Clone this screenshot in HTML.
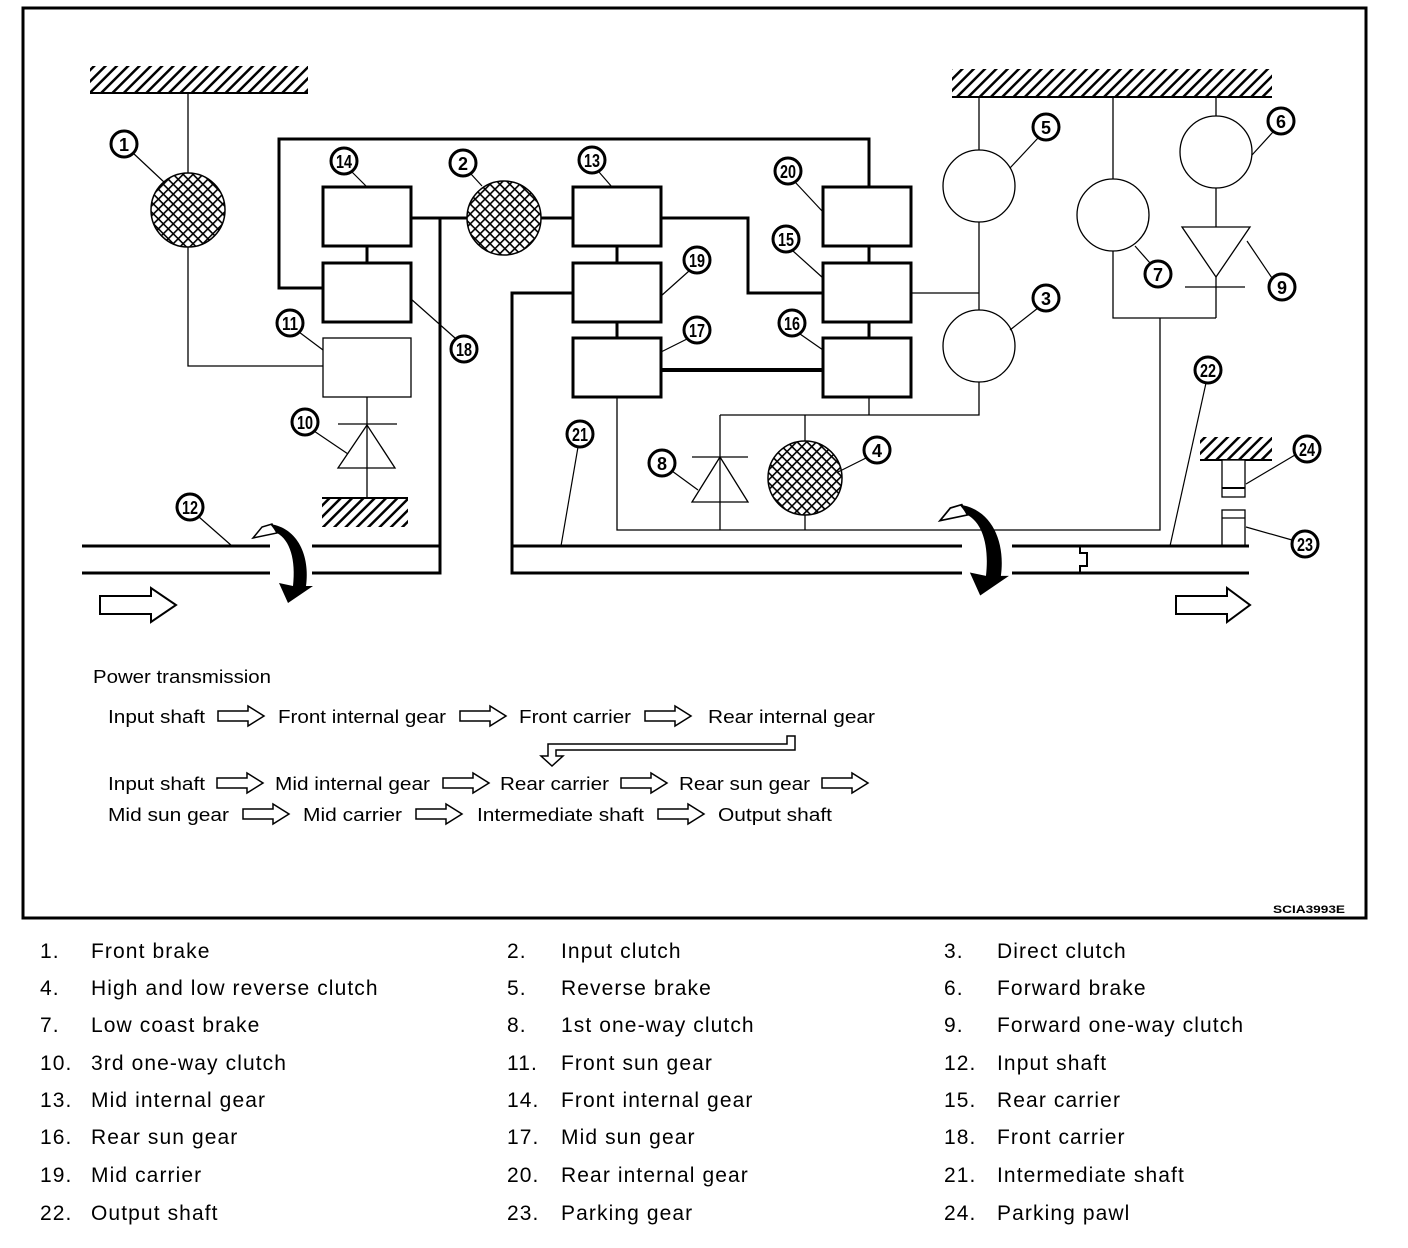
<!DOCTYPE html>
<html><head><meta charset="utf-8"><style>
html,body{margin:0;padding:0;background:#fff}
svg{display:block}
text{font-family:"Liberation Sans",sans-serif;fill:#000}
</style></head><body>
<svg width="1408" height="1248" viewBox="0 0 1408 1248" xmlns="http://www.w3.org/2000/svg">
<defs>
<pattern id="h" width="8" height="8" patternUnits="userSpaceOnUse" patternTransform="rotate(45)">
<rect width="8" height="8" fill="#fff"/><rect x="0" y="0" width="2.5" height="8" fill="#000"/></pattern>
<pattern id="x" width="7" height="7" patternUnits="userSpaceOnUse" patternTransform="rotate(45)">
<rect width="7" height="7" fill="#fff"/><rect x="0" y="0" width="1.6" height="7" fill="#000"/><rect x="0" y="0" width="7" height="1.6" fill="#000"/></pattern>
<g id="oa"><polygon points="0,5 30,5 30,0 46,10 30,20 30,15 0,15" fill="#fff" stroke="#000" stroke-width="1.5"/></g>
<g id="ca">
<path d="M253,538 L262,527 L272,524 L277,533 Z" fill="#fff" stroke="#000" stroke-width="1.5"/>
<path d="M270,524 C298,528 310,556 306,586 L313,586 L288,603 L279,583 L293,586 C296,560 290,540 277,533 Z" fill="#000"/>
</g>
</defs>
<rect x="23" y="8" width="1343" height="910" fill="none" stroke="#000" stroke-width="3"/>

<rect x="90" y="66" width="218" height="27" fill="url(#h)"/><line x1="90" y1="93" x2="308" y2="93" stroke="#000" stroke-width="2"/>
<rect x="952" y="69" width="320" height="28" fill="url(#h)"/><line x1="952" y1="97" x2="1272" y2="97" stroke="#000" stroke-width="2"/>
<rect x="322" y="499" width="86" height="28" fill="url(#h)"/><line x1="322" y1="498" x2="408" y2="498" stroke="#000" stroke-width="2"/>
<rect x="1200" y="437" width="72" height="23" fill="url(#h)"/><line x1="1200" y1="460" x2="1272" y2="460" stroke="#000" stroke-width="2"/>

<g fill="none" stroke="#000" stroke-width="1.3">
<polyline points="188,93 188,173"/>
<polyline points="188,247 188,366 323,366"/>
<rect x="323" y="338" width="88" height="59"/>
<line x1="367" y1="397" x2="367" y2="468"/>
<line x1="338" y1="424" x2="397" y2="424"/>
<polygon points="367,425 338,468 395,468"/>
<line x1="367" y1="468" x2="367" y2="498"/>
<line x1="911" y1="293" x2="979" y2="293"/>
<line x1="979" y1="97" x2="979" y2="150"/>
<line x1="979" y1="222" x2="979" y2="310"/>
<polyline points="979,382 979,415 720,415"/>
<line x1="869" y1="397" x2="869" y2="415"/>
<line x1="720" y1="415" x2="720" y2="502"/>
<line x1="692" y1="457" x2="748" y2="457"/>
<polygon points="720,457 692,502 748,502"/>
<line x1="720" y1="502" x2="720" y2="530"/>
<line x1="805" y1="415" x2="805" y2="441"/>
<line x1="805" y1="515" x2="805" y2="530"/>
<polyline points="617,397 617,530 1160,530 1160,318"/>
<polyline points="1113,97 1113,318 1216,318"/>
<line x1="1216" y1="97" x2="1216" y2="227"/>
<polygon points="1182,227 1250,227 1216,277" fill="#fff"/>
<line x1="1216" y1="277" x2="1216" y2="318"/>
<line x1="1185" y1="287" x2="1245" y2="287"/>
<circle cx="979" cy="186" r="36" fill="#fff"/>
<circle cx="979" cy="346" r="36" fill="#fff"/>
<circle cx="1113" cy="215" r="36" fill="#fff"/>
<circle cx="1216" cy="152" r="36" fill="#fff"/>
<rect x="1222" y="460" width="23" height="37" fill="#fff"/><line x1="1222" y1="488" x2="1245" y2="488" stroke-width="2"/>
<rect x="1222" y="510" width="23" height="36" fill="#fff"/><line x1="1222" y1="518" x2="1245" y2="518"/>
</g>

<g fill="none" stroke="#000" stroke-width="3">
<polyline points="323,288 279,288 279,139 869,139 869,187"/>
<line x1="367" y1="246" x2="367" y2="263"/>
<line x1="411" y1="218" x2="573" y2="218"/>
<polyline points="440,218 440,573 82,573"/>
<line x1="82" y1="546" x2="440" y2="546"/>
<polyline points="661,218 748,218 748,293 823,293"/>
<line x1="617" y1="246" x2="617" y2="263"/>
<line x1="617" y1="322" x2="617" y2="338"/>
<line x1="869" y1="246" x2="869" y2="263"/>
<line x1="869" y1="322" x2="869" y2="338"/>
<line x1="661" y1="370" x2="823" y2="370" stroke-width="4"/>
<polyline points="573,293 512,293 512,573 1249,573"/>
<line x1="512" y1="546" x2="1249" y2="546"/>
<rect x="323" y="187" width="88" height="59" fill="#fff"/>
<rect x="323" y="263" width="88" height="59" fill="#fff"/>
<rect x="573" y="187" width="88" height="59" fill="#fff"/>
<rect x="573" y="263" width="88" height="59" fill="#fff"/>
<rect x="573" y="338" width="88" height="59" fill="#fff"/>
<rect x="823" y="187" width="88" height="59" fill="#fff"/>
<rect x="823" y="263" width="88" height="59" fill="#fff"/>
<rect x="823" y="338" width="88" height="59" fill="#fff"/>
</g>
<polyline points="1080,573 1080,566 1087,566 1087,553 1080,553 1080,546" fill="#fff" stroke="#000" stroke-width="2"/>

<circle cx="188" cy="210" r="37" fill="url(#x)" stroke="#000" stroke-width="1.5"/>
<circle cx="504" cy="218" r="37" fill="url(#x)" stroke="#000" stroke-width="1.5"/>
<circle cx="805" cy="478" r="37" fill="url(#x)" stroke="#000" stroke-width="1.5"/>

<!-- curved arrows -->
<rect x="270" y="540" width="42" height="40" fill="#fff"/>
<use href="#ca"/>
<rect x="962" y="540" width="50" height="40" fill="#fff"/>
<use href="#ca" transform="translate(649,-98) scale(1.15)"/>

<polygon points="100,596 151,596 151,588 176,605 151,622 151,614 100,614" fill="#fff" stroke="#000" stroke-width="2"/>
<polygon points="1176,596 1227,596 1227,588 1250,605 1227,622 1227,614 1176,614" fill="#fff" stroke="#000" stroke-width="2"/>

<g stroke="#000" stroke-width="1.2">
<line x1="133" y1="153" x2="165" y2="183"/>
<line x1="352" y1="172" x2="367" y2="187"/>
<line x1="471" y1="174" x2="482" y2="186"/>
<line x1="599" y1="172" x2="612" y2="187"/>
<line x1="795" y1="182" x2="823" y2="212"/>
<line x1="793" y1="251" x2="823" y2="278"/>
<line x1="689" y1="271" x2="661" y2="296"/>
<line x1="689" y1="338" x2="661" y2="352"/>
<line x1="800" y1="334" x2="823" y2="350"/>
<line x1="455" y1="338" x2="411" y2="299"/>
<line x1="299" y1="332" x2="323" y2="350"/>
<line x1="314" y1="431" x2="348" y2="454"/>
<line x1="199" y1="517" x2="232" y2="546"/>
<line x1="578" y1="447" x2="561" y2="546"/>
<line x1="672" y1="471" x2="698" y2="490"/>
<line x1="866" y1="458" x2="838" y2="472"/>
<line x1="1038" y1="138" x2="1010" y2="168"/>
<line x1="1038" y1="308" x2="1010" y2="330"/>
<line x1="1273" y1="132" x2="1252" y2="155"/>
<line x1="1150" y1="263" x2="1135" y2="246"/>
<line x1="1272" y1="278" x2="1247" y2="241"/>
<line x1="1206" y1="383" x2="1170" y2="546"/>
<line x1="1295" y1="455" x2="1246" y2="484"/>
<line x1="1292" y1="540" x2="1246" y2="527"/>
</g>
<g fill="#fff" stroke="#000" stroke-width="3">
<circle cx="124" cy="144" r="13"/><circle cx="344" cy="161" r="13"/><circle cx="463" cy="163" r="13"/>
<circle cx="592" cy="160" r="13"/><circle cx="788" cy="171" r="13"/><circle cx="786" cy="239" r="13"/>
<circle cx="697" cy="260" r="13"/><circle cx="697" cy="330" r="13"/><circle cx="792" cy="323" r="13"/>
<circle cx="464" cy="349" r="13"/><circle cx="290" cy="323" r="13"/><circle cx="305" cy="422" r="13"/>
<circle cx="190" cy="507" r="13"/><circle cx="580" cy="434" r="13"/><circle cx="662" cy="463" r="13"/>
<circle cx="877" cy="450" r="13"/><circle cx="1046" cy="127" r="13"/><circle cx="1046" cy="298" r="13"/>
<circle cx="1281" cy="121" r="13"/><circle cx="1158" cy="274" r="13"/><circle cx="1282" cy="287" r="13"/>
<circle cx="1208" cy="370" r="13"/><circle cx="1307" cy="449" r="13"/><circle cx="1305" cy="544" r="13"/>
</g>
<g font-size="18" font-weight="bold" text-anchor="middle">
<text x="124" y="151">1</text><text x="344" y="168" textLength="16" lengthAdjust="spacingAndGlyphs">14</text><text x="463" y="170">2</text>
<text x="592" y="167" textLength="16" lengthAdjust="spacingAndGlyphs">13</text><text x="788" y="178" textLength="16" lengthAdjust="spacingAndGlyphs">20</text><text x="786" y="246" textLength="16" lengthAdjust="spacingAndGlyphs">15</text>
<text x="697" y="267" textLength="16" lengthAdjust="spacingAndGlyphs">19</text><text x="697" y="337" textLength="16" lengthAdjust="spacingAndGlyphs">17</text><text x="792" y="330" textLength="16" lengthAdjust="spacingAndGlyphs">16</text>
<text x="464" y="356" textLength="16" lengthAdjust="spacingAndGlyphs">18</text><text x="290" y="330" textLength="16" lengthAdjust="spacingAndGlyphs">11</text><text x="305" y="429" textLength="16" lengthAdjust="spacingAndGlyphs">10</text>
<text x="190" y="514" textLength="16" lengthAdjust="spacingAndGlyphs">12</text><text x="580" y="441" textLength="16" lengthAdjust="spacingAndGlyphs">21</text><text x="662" y="470">8</text>
<text x="877" y="457">4</text><text x="1046" y="134">5</text><text x="1046" y="305">3</text>
<text x="1281" y="128">6</text><text x="1158" y="281">7</text><text x="1282" y="294">9</text>
<text x="1208" y="377" textLength="16" lengthAdjust="spacingAndGlyphs">22</text><text x="1307" y="456" textLength="16" lengthAdjust="spacingAndGlyphs">24</text><text x="1305" y="551" textLength="16" lengthAdjust="spacingAndGlyphs">23</text>
</g>

<g font-size="18">
<text x="93" y="683" textLength="178" lengthAdjust="spacingAndGlyphs">Power transmission</text>
<text x="108" y="723" textLength="97" lengthAdjust="spacingAndGlyphs">Input shaft</text>
<text x="278" y="723" textLength="168" lengthAdjust="spacingAndGlyphs">Front internal gear</text>
<text x="519" y="723" textLength="112" lengthAdjust="spacingAndGlyphs">Front carrier</text>
<text x="708" y="723" textLength="167" lengthAdjust="spacingAndGlyphs">Rear internal gear</text>
<text x="108" y="790" textLength="97" lengthAdjust="spacingAndGlyphs">Input shaft</text>
<text x="275" y="790" textLength="155" lengthAdjust="spacingAndGlyphs">Mid internal gear</text>
<text x="500" y="790" textLength="109" lengthAdjust="spacingAndGlyphs">Rear carrier</text>
<text x="679" y="790" textLength="131" lengthAdjust="spacingAndGlyphs">Rear sun gear</text>
<text x="108" y="821" textLength="121" lengthAdjust="spacingAndGlyphs">Mid sun gear</text>
<text x="303" y="821" textLength="99" lengthAdjust="spacingAndGlyphs">Mid carrier</text>
<text x="477" y="821" textLength="167" lengthAdjust="spacingAndGlyphs">Intermediate shaft</text>
<text x="718" y="821" textLength="114" lengthAdjust="spacingAndGlyphs">Output shaft</text>
</g>
<use href="#oa" x="218" y="706"/><use href="#oa" x="460" y="706"/><use href="#oa" x="645" y="706"/>
<use href="#oa" x="217" y="773"/><use href="#oa" x="443" y="773"/><use href="#oa" x="621" y="773"/><use href="#oa" x="822" y="773"/>
<use href="#oa" x="243" y="804"/><use href="#oa" x="416" y="804"/><use href="#oa" x="658" y="804"/>
<polygon points="787,736 795,736 795,750 556,750 556,756 563,756 552,766 541,756 548,756 548,744 787,744" fill="#fff" stroke="#000" stroke-width="1.5"/>

<text x="1273" y="913" font-size="11" font-weight="bold" textLength="72" lengthAdjust="spacingAndGlyphs">SCIA3993E</text>

<g font-size="21" letter-spacing="1.1">
<text x="40" y="958">1.</text><text x="91" y="958">Front brake</text>
<text x="507" y="958">2.</text><text x="561" y="958">Input clutch</text>
<text x="944" y="958">3.</text><text x="997" y="958">Direct clutch</text>
<text x="40" y="995">4.</text><text x="91" y="995">High and low reverse clutch</text>
<text x="507" y="995">5.</text><text x="561" y="995">Reverse brake</text>
<text x="944" y="995">6.</text><text x="997" y="995">Forward brake</text>
<text x="40" y="1032">7.</text><text x="91" y="1032">Low coast brake</text>
<text x="507" y="1032">8.</text><text x="561" y="1032">1st one-way clutch</text>
<text x="944" y="1032">9.</text><text x="997" y="1032">Forward one-way clutch</text>
<text x="40" y="1070">10.</text><text x="91" y="1070">3rd one-way clutch</text>
<text x="507" y="1070">11.</text><text x="561" y="1070">Front sun gear</text>
<text x="944" y="1070">12.</text><text x="997" y="1070">Input shaft</text>
<text x="40" y="1107">13.</text><text x="91" y="1107">Mid internal gear</text>
<text x="507" y="1107">14.</text><text x="561" y="1107">Front internal gear</text>
<text x="944" y="1107">15.</text><text x="997" y="1107">Rear carrier</text>
<text x="40" y="1144">16.</text><text x="91" y="1144">Rear sun gear</text>
<text x="507" y="1144">17.</text><text x="561" y="1144">Mid sun gear</text>
<text x="944" y="1144">18.</text><text x="997" y="1144">Front carrier</text>
<text x="40" y="1182">19.</text><text x="91" y="1182">Mid carrier</text>
<text x="507" y="1182">20.</text><text x="561" y="1182">Rear internal gear</text>
<text x="944" y="1182">21.</text><text x="997" y="1182">Intermediate shaft</text>
<text x="40" y="1220">22.</text><text x="91" y="1220">Output shaft</text>
<text x="507" y="1220">23.</text><text x="561" y="1220">Parking gear</text>
<text x="944" y="1220">24.</text><text x="997" y="1220">Parking pawl</text>
</g>
</svg>
</body></html>
